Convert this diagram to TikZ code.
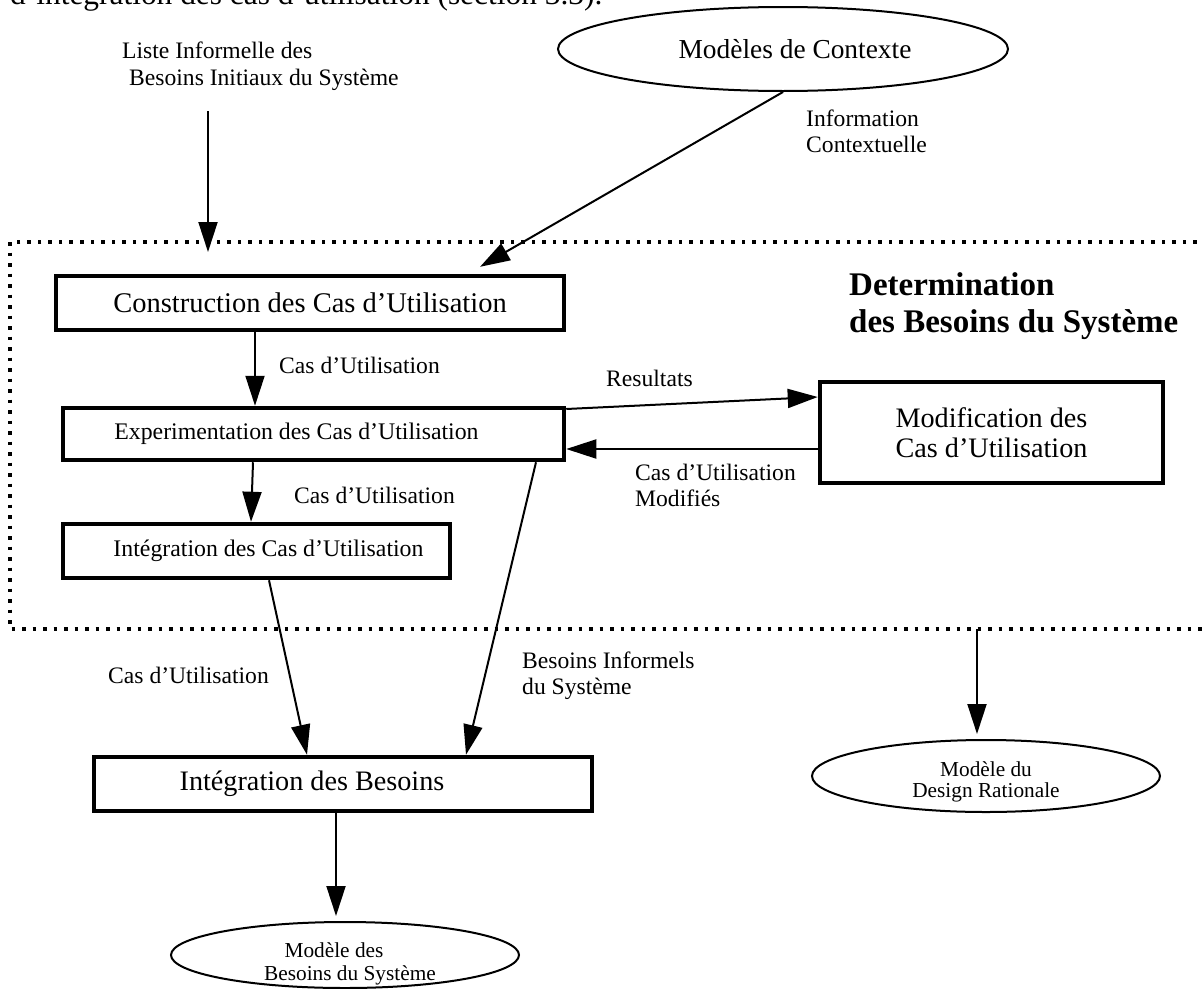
\documentclass[tikz,border=0pt]{standalone}
\usepackage{fontspec}
\setmainfont{Liberation Serif}
\usetikzlibrary{arrows.meta,shapes.geometric}

% shift a line of text sideways inside its box without changing the box width
\newcommand\offtext[2]{\hspace*{#1}#2\hspace*{-#1}}

\begin{document}
\begin{tikzpicture}[x=1pt,y=-1pt,
  flow/.style={line width=2pt,-{Triangle[length=30pt,width=19pt]}},
  procbox/.style={draw,rectangle,line width=4.5pt,inner sep=0pt},
  model/.style={draw,ellipse,line width=2pt,inner sep=0pt},
  lbl/.style={inner sep=0pt,anchor=west,align=left,font=\fontsize{23.6}{26.5}\selectfont},
  region/.style={line width=3.5pt,dash pattern=on 3.5pt off 7pt},
]
\clip (0,0) rectangle (1202,988);

% running text above the figure
\node[anchor=base west,inner sep=0pt,font=\fontsize{31.4}{34}\selectfont] (doc) at (10,4)
  {d’intégration des cas d’utilisation (section 3.3).};

% inputs
\node[model,minimum width=450pt,minimum height=84pt,font=\fontsize{27.4}{30}\selectfont]
  (ctx) at (783,49) {\offtext{12pt}{Modèles de Contexte}};
\node[lbl] (liste) at (122,66) {Liste Informelle des\\\hspace*{7pt}Besoins Initiaux du Système};
\node[lbl] (l7) at (806,131.5) {Information\\Contextuelle};

% the sub-process region
\draw[region] (10,242) rectangle (1240,629);
\node[anchor=west,inner sep=0pt,align=left,font=\bfseries\fontsize{33}{37}\selectfont]
  (title) at (849,306.5) {Determination\\des Besoins du Système};

% activities
\node[procbox,minimum width=508pt,minimum height=54pt,font=\fontsize{28.5}{32}\selectfont]
  (cons) at (310,303) {Construction des Cas d’Utilisation};
\node[procbox,minimum width=501pt,minimum height=52pt,font=\fontsize{23.8}{27}\selectfont]
  (exp) at (313.5,434) {\offtext{-17pt}{Experimentation des Cas d’Utilisation}};
\node[procbox,minimum width=387pt,minimum height=54pt,font=\fontsize{23.8}{27}\selectfont]
  (icu) at (256.5,551) {\offtext{12pt}{Intégration des Cas d’Utilisation}};
\node[procbox,minimum width=343pt,minimum height=101pt,align=center,font=\fontsize{28.2}{30}\selectfont]
  (mod) at (991.5,432.5) {Modification des\\Cas d’Utilisation};
\node[procbox,minimum width=498pt,minimum height=54pt,font=\fontsize{28.2}{32}\selectfont]
  (ib) at (343,784) {\offtext{-31pt}{Intégration des Besoins}};

% outputs
\node[model,minimum width=348pt,minimum height=72pt,
  label={[yshift=-6pt,align=center,inner sep=0pt,font=\fontsize{21.3}{21.5}\selectfont]center:Modèle du\\Design Rationale}]
  (dr) at (986,776) {};
\node[model,minimum width=348pt,minimum height=66pt,
  label={[yshift=-9pt,xshift=-3pt,align=center,inner sep=0pt,font=\fontsize{21.3}{23}\selectfont]center:\offtext{-8pt}{Modèle des}\\\offtext{8pt}{Besoins du Système}}]
  (mbs) at (345,955) {};

% connector ends that are not on a node
\coordinate (listeout) at (208,111);
\coordinate (listein) at (208,252);
\coordinate (regout) at (977,629);

% flow labels
\node[lbl] (l1) at (279,365) {Cas d’Utilisation};
\node[lbl] (l2) at (294,495) {Cas d’Utilisation};
\node[lbl] (l3) at (606,378) {Resultats};
\node[lbl] (l4) at (635,485.5) {Cas d’Utilisation\\Modifiés};
\node[lbl] (l5) at (108,675) {Cas d’Utilisation};
\node[lbl] (l6) at (522,675.5) {Besoins Informels\\du Système};

% flows
\draw[flow] (listeout) -- (listein);
\draw[flow,shorten >=13.9pt] (ctx.south) -- ([xshift=158pt]cons.north);
\draw[flow] ([xshift=-55pt]cons.south) -- ([xshift=-58.5pt]exp.north);
\draw[flow] ([xshift=-60.5pt]exp.south) -- ([xshift=-5.5pt]icu.north);
\draw[flow] ([yshift=25pt]exp.east) -- ([yshift=35.5pt]mod.west);
\draw[flow] ([yshift=-16.5pt]mod.west) -- ([yshift=-15pt]exp.east);
\draw[flow] ([xshift=12.5pt]icu.south) -- ([xshift=-36pt]ib.north);
\draw[flow] ([xshift=222.5pt]exp.south) -- ([xshift=123pt]ib.north);
\draw[flow] ([xshift=-7pt]ib.south) -- ([xshift=-9pt,yshift=5pt]mbs.north);
\draw[flow] (regout) -- ([xshift=-9pt,yshift=5pt]dr.north);
\end{tikzpicture}
\end{document}
